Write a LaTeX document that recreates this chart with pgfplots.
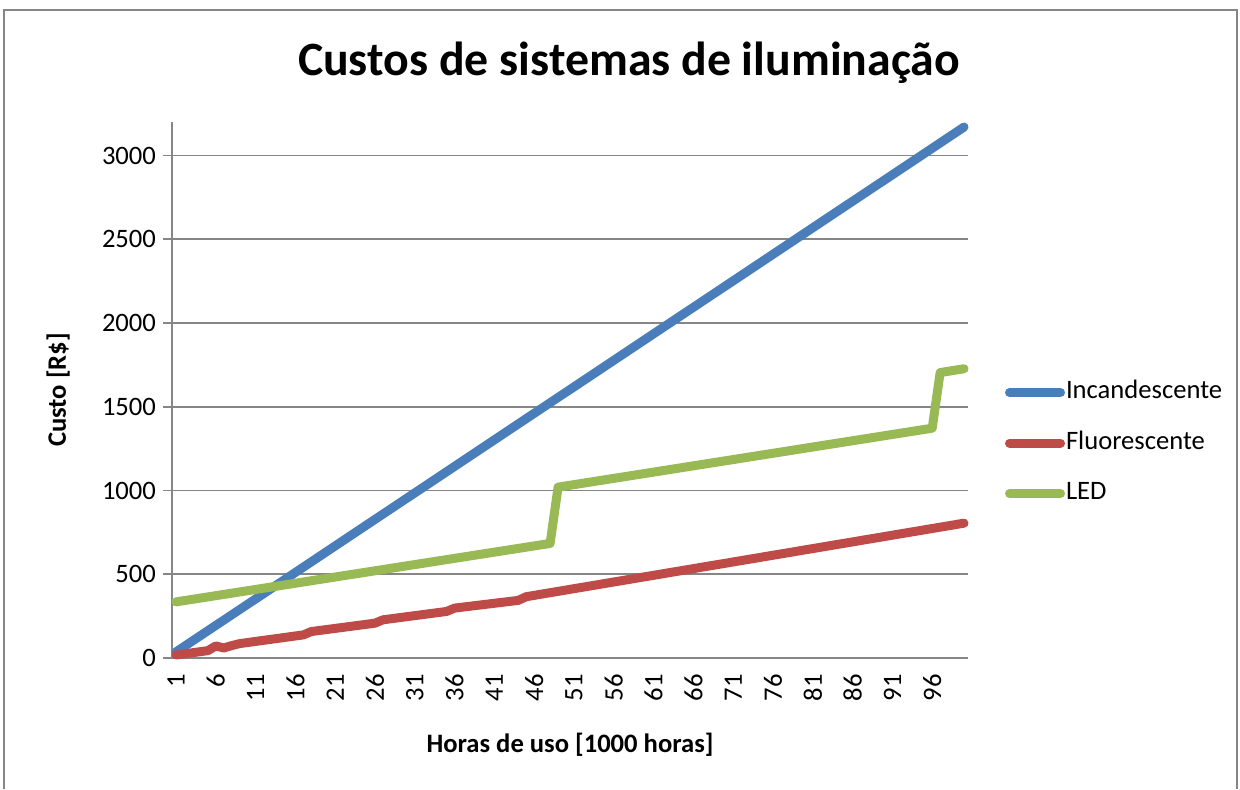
\documentclass[border=0pt]{standalone}
\usepackage{fontspec}
\setmainfont{Carlito}
\usepackage{pgfplots}
\pgfplotsset{compat=1.18}
\definecolor{cblue}{HTML}{4A7EBB}
\definecolor{cred}{HTML}{BE4B48}
\definecolor{cgreen}{HTML}{98B954}
\definecolor{cgrid}{HTML}{868686}
\begin{document}
\begin{tikzpicture}
\useasboundingbox (0,0) rectangle (620pt,394.5pt);
\draw[cgrid, line width=0.8pt] (2pt,0) -- (2pt,389.5pt) -- (618.5pt,389.5pt) -- (618.5pt,0);
\node[font=\fontsize{23.9}{28}\selectfont\bfseries] at (314.5pt,363pt) {Custos de sistemas de iluminação};
\begin{axis}[
  at={(86pt,65.5pt)}, anchor=south west,
  scale only axis, width=398pt, height=268pt,
  xmin=0.5, xmax=100.5, ymin=0, ymax=3200,
  axis lines*=left,
  axis line style={cgrid, line width=0.8pt},
  xtick={1,6,...,96}, ytick={0,500,...,3000},
  xtick style={draw=none},
  ytick style={cgrid, line width=0.8pt},
  tick align=outside, major tick length=4.5pt,
  ymajorgrids, grid style={cgrid, line width=0.8pt},
  x tick label style={rotate=90, anchor=east},
  ticklabel style={font=\fontsize{13.3}{15}\selectfont},
  /pgf/number format/assume math mode=true,
  /pgf/number format/set thousands separator={},
  xlabel={Horas de uso [1000 horas]},
  ylabel={Custo [R\$]},
  label style={font=\fontsize{13.3}{15}\selectfont\bfseries},
  xlabel style={at={(axis description cs:0.5,-0.162)}, anchor=center},
  ylabel style={at={(axis description cs:-0.143,0.5)}, anchor=center},
  legend style={at={(axis description cs:1.0465,0.401)}, anchor=west, draw=none, fill=none,
    inner sep=0pt, outer sep=0pt, row sep=12.25pt,
    nodes={inner sep=0.5pt, text height=9pt, text depth=3pt, font=\fontsize{13.3}{15}\selectfont}},
  legend cell align=left,
  legend image code/.code={\draw[#1, line width=4.5pt, line cap=round] (2.25pt,0pt) -- (27.75pt,0pt);},
  every axis plot/.append style={line width=4.5pt, line cap=round, line join=round, mark=none},
  clip=false,
]
\addplot[cblue] coordinates {(1,36) (100,3170)};
\addlegendentry{Incandescente}
\addplot[cred] coordinates {(1,18) (5,44) (6,72) (7,60) (8,74) (9,86) (17,138) (18,158) (26,208) (27,228) (35,278) (36,298) (44,344) (45,366) (100,805)};
\addlegendentry{Fluorescente}
\addplot[cgreen] coordinates {(1,335) (48,684) (49,1020) (96,1372) (97,1704) (100,1727)};
\addlegendentry{LED}
\end{axis}
\end{tikzpicture}
\end{document}
